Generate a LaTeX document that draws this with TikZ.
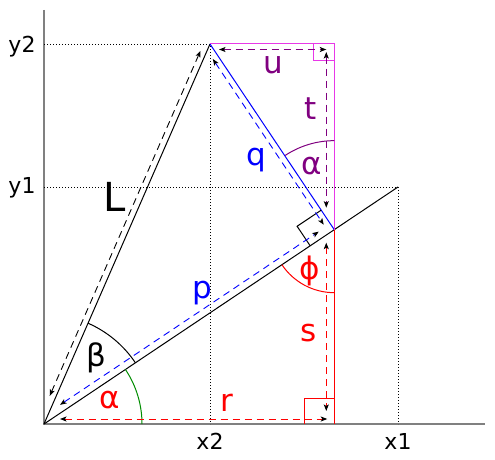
\documentclass[tikz,border=0pt]{standalone}
\usepackage{fontspec}
\setmainfont{DejaVu Sans}
\usetikzlibrary{calc,arrows.meta}
\definecolor{mag}{RGB}{232,56,232}
\definecolor{purp}{RGB}{128,0,128}
\definecolor{grn}{RGB}{0,140,0}
\definecolor{axgray}{RGB}{128,128,128}
\begin{document}
\begin{tikzpicture}[x=1pt,y=-1pt,
  tip/.tip={Stealth[black,length=6.5pt,width=5pt,inset=1.5pt]},
  dim/.style={dash pattern=on 7pt off 5pt, line width=0.9pt, tip-tip},
  ln/.style={line width=1pt},
  dotl/.style={dash pattern=on 1pt off 2pt, line width=0.8pt, black},
  axis/.style={line width=2pt, axgray},
  lab/.style={font=\fontsize{31}{31}\selectfont, inner sep=0pt},
  biglab/.style={font=\fontsize{40}{40}\selectfont, inner sep=0pt},
  axl/.style={font=\fontsize{22}{22}\selectfont, inner sep=0pt}]
\useasboundingbox (0,0) rectangle (495,460);
% points
\coordinate (O) at (44,424);
\coordinate (P2) at (210,44);
\coordinate (P1) at (398,187);
\coordinate (F) at ($(O)!(P2)!(P1)$);
\coordinate (C) at (F |- P2);
\coordinate (B) at (F |- O);
\coordinate (Ytop) at (44,10);
\coordinate (Xend) at (485,424);
\coordinate (Y2) at (O |- P2);
\coordinate (Y1) at (O |- P1);
\coordinate (X2) at (P2 |- O);
\coordinate (X1) at (P1 |- O);
% axes
\draw[axis] (Ytop) -- (O) -- (Xend);
% dotted guides
\draw[dotl] (Y2) -- (P2) -- (X2);
\draw[dotl] (Y1) -- (P1) -- (X1);
% main lines
\draw[ln] (O) -- (P2);
\draw[ln] (O) -- (P1);
\draw[ln,blue] (P2) -- (F);
\draw[ln,mag] (P2) -- (C) -- (F);
\draw[ln,red] (F) -- (B);
% right-angle markers
\draw[ln,mag] ($(C)+(-21,0)$) -- ++(0,17) -- ++(21,0);
\draw[ln,red] ($(B)+(-30,0)$) -- ++(0,-26) -- ++(30,0);
\coordinate (m1) at ($(F)!29pt!(O)$);
\coordinate (m2) at ($(F)!23.5pt!(P2)$);
\coordinate (m3) at ($(m1)+(m2)-(F)$);
\draw[ln] (m1) -- (m3) -- (m2);
% angle arcs
\draw[ln,grn] ($(O)+(0:98)$) arc[start angle=0, end angle=-33.8, radius=98];
\draw[ln] ($(O)+(-33.8:110)$) arc[start angle=-33.8, end angle=-66.4, radius=110];
\draw[ln,red] ($(F)+(90:63)$) arc[start angle=90, end angle=146.2, radius=63];
\draw[ln,purp] ($(F)+(-90:89)$) arc[start angle=-90, end angle=-123.5, radius=89];
% dimension arrows
\coordinate (La) at ($(O)!28pt!(P2)!6pt!90:(P2)$);
\coordinate (Lb) at ($(P2)!10pt!(O)!6pt!-90:(O)$);
\draw[dim,black] (La) -- (Lb);
\coordinate (pa) at ($(O)!24pt!(F)!7pt!90:(F)$);
\coordinate (pb) at ($(F)!14pt!(O)!7pt!-90:(O)$);
\draw[dim,blue] (pa) -- (pb);
\coordinate (qa) at ($(P2)!14pt!(F)!6pt!-90:(F)$);
\coordinate (qb) at ($(F)!10pt!(P2)!6pt!90:(P2)$);
\draw[dim,blue] (qa) -- (qb);
\coordinate (ua) at ($(P2)+(9,5.5)$);
\coordinate (ub) at ($(C)+(-8,5.5)$);
\draw[dim,purp] (ua) -- (ub);
\coordinate (ta) at ($(C)+(-8,8)$);
\coordinate (tb) at ($(F)+(-8,-22)$);
\draw[dim,purp] (ta) -- (tb);
\coordinate (sa) at ($(F)+(-8,13)$);
\coordinate (sb) at ($(B)+(-8,-13)$);
\draw[dim,red] (sa) -- (sb);
\coordinate (ra) at ($(O)+(16,-5)$);
\coordinate (rb) at ($(B)+(-7,-5)$);
\draw[dim,red] (ra) -- (rb);
% labels
\node[biglab] (tL) at (115,197) {L};
\node[lab,blue] (tq) at (256,160) {q};
\node[lab,purp] (ta2) at (312,166) {α};
\node[lab,blue] (tp) at (202,293) {p};
\node[lab] (tb2) at (96,358) {β};
\node[lab,red] (ta1) at (110,400) {α};
\node[lab,red] (tr) at (227,403) {r};
\node[lab,red] (ts) at (309,333) {s};
\node[lab,red] (tphi) at (310,271) {ϕ};
\node[lab,purp] (tu) at (273,65) {u};
\node[lab,purp] (tt) at (311,109) {t};
\node[axl] (tx2) at (210,441) {x2};
\node[axl] (tx1) at (398,441) {x1};
\node[axl] (ty2) at (22,47) {y2};
\node[axl] (ty1) at (22,188) {y1};
\end{tikzpicture}
\end{document}
